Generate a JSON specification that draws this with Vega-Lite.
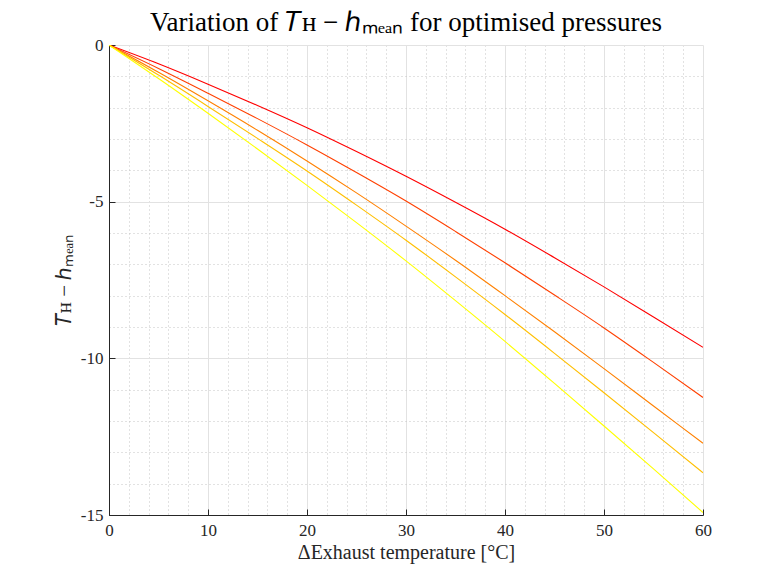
{
  "$schema": "https://vega.github.io/schema/vega-lite/v6.json",
  "width": 594,
  "height": 470,
  "autosize": {"type": "none"},
  "padding": {"left": 109, "top": 45, "right": 63, "bottom": 62},
  "background": "white",
  "title": {
    "text": "Variation of 𝑇ʜ − ℎₘₑₐₙ for optimised pressures",
    "font": "Liberation Serif",
    "fontSize": 27,
    "fontWeight": "normal",
    "color": "#000000",
    "anchor": "middle",
    "offset": -1
  },
  "data": {
    "values": [
      {"s": "1", "dT": 0, "v": 0}, {"s": "1", "dT": 5, "v": -0.6}, {"s": "1", "dT": 10, "v": -1.25}, {"s": "1", "dT": 15, "v": -1.93}, {"s": "1", "dT": 20, "v": -2.64}, {"s": "1", "dT": 25, "v": -3.4}, {"s": "1", "dT": 30, "v": -4.19}, {"s": "1", "dT": 35, "v": -5.02}, {"s": "1", "dT": 40, "v": -5.88}, {"s": "1", "dT": 45, "v": -6.79}, {"s": "1", "dT": 50, "v": -7.72}, {"s": "1", "dT": 55, "v": -8.68}, {"s": "1", "dT": 60, "v": -9.65},
      {"s": "2", "dT": 0, "v": 0}, {"s": "2", "dT": 5, "v": -0.75}, {"s": "2", "dT": 10, "v": -1.54}, {"s": "2", "dT": 15, "v": -2.35}, {"s": "2", "dT": 20, "v": -3.19}, {"s": "2", "dT": 25, "v": -4.07}, {"s": "2", "dT": 30, "v": -4.98}, {"s": "2", "dT": 35, "v": -5.95}, {"s": "2", "dT": 40, "v": -6.95}, {"s": "2", "dT": 45, "v": -7.98}, {"s": "2", "dT": 50, "v": -9.03}, {"s": "2", "dT": 55, "v": -10.13}, {"s": "2", "dT": 60, "v": -11.25},
      {"s": "3", "dT": 0, "v": 0}, {"s": "3", "dT": 5, "v": -0.87}, {"s": "3", "dT": 10, "v": -1.78}, {"s": "3", "dT": 15, "v": -2.72}, {"s": "3", "dT": 20, "v": -3.7}, {"s": "3", "dT": 25, "v": -4.72}, {"s": "3", "dT": 30, "v": -5.78}, {"s": "3", "dT": 35, "v": -6.87}, {"s": "3", "dT": 40, "v": -8.0}, {"s": "3", "dT": 45, "v": -9.15}, {"s": "3", "dT": 50, "v": -10.33}, {"s": "3", "dT": 55, "v": -11.52}, {"s": "3", "dT": 60, "v": -12.71},
      {"s": "4", "dT": 0, "v": 0}, {"s": "4", "dT": 5, "v": -0.96}, {"s": "4", "dT": 10, "v": -1.96}, {"s": "4", "dT": 15, "v": -2.98}, {"s": "4", "dT": 20, "v": -4.02}, {"s": "4", "dT": 25, "v": -5.11}, {"s": "4", "dT": 30, "v": -6.23}, {"s": "4", "dT": 35, "v": -7.4}, {"s": "4", "dT": 40, "v": -8.6}, {"s": "4", "dT": 45, "v": -9.84}, {"s": "4", "dT": 50, "v": -11.1}, {"s": "4", "dT": 55, "v": -12.37}, {"s": "4", "dT": 60, "v": -13.65},
      {"s": "5", "dT": 0, "v": 0}, {"s": "5", "dT": 5, "v": -1.07}, {"s": "5", "dT": 10, "v": -2.18}, {"s": "5", "dT": 15, "v": -3.32}, {"s": "5", "dT": 20, "v": -4.48}, {"s": "5", "dT": 25, "v": -5.67}, {"s": "5", "dT": 30, "v": -6.89}, {"s": "5", "dT": 35, "v": -8.16}, {"s": "5", "dT": 40, "v": -9.46}, {"s": "5", "dT": 45, "v": -10.8}, {"s": "5", "dT": 50, "v": -12.16}, {"s": "5", "dT": 55, "v": -13.53}, {"s": "5", "dT": 60, "v": -14.92}
    ]
  },
  "mark": {"type": "line", "strokeWidth": 1.1, "interpolate": "monotone", "clip": true},
  "encoding": {
    "x": {
      "field": "dT",
      "type": "quantitative",
      "scale": {"domain": [0, 60], "nice": false, "zero": false},
      "axis": {
        "title": "ΔExhaust temperature [°C]",
        "titleFont": "Liberation Serif",
        "titleFontSize": 20,
        "titleFontWeight": "normal",
        "titleColor": "#262626",
        "titlePadding": 4,
        "values": [0, 2, 4, 6, 8, 10, 12, 14, 16, 18, 20, 22, 24, 26, 28, 30, 32, 34, 36, 38, 40, 42, 44, 46, 48, 50, 52, 54, 56, 58, 60],
        "labelExpr": "datum.value % 10 === 0 ? toString(datum.value) : ''",
        "labelFont": "Liberation Serif",
        "labelFontSize": 17,
        "labelColor": "#262626",
        "labelPadding": 13,
        "labelFlush": false,
        "labelOverlap": false,
        "domainColor": "#262626",
        "domainWidth": 1,
        "tickColor": "#262626",
        "tickSize": -6,
        "tickOpacity": {"condition": {"test": "datum.value % 10 === 0", "value": 1}, "value": 0},
        "grid": true,
        "gridColor": {"condition": {"test": "datum.value % 10 === 0", "value": "#e2e2e2"}, "value": "#c4c4c4"},
        "gridDash": {"condition": {"test": "datum.value % 10 === 0", "value": []}, "value": [1, 3]},
        "gridWidth": 1
      }
    },
    "y": {
      "field": "v",
      "type": "quantitative",
      "scale": {"domain": [-15, 0], "nice": false, "zero": false},
      "axis": {
        "title": "𝑇ʜ − ℎₘₑₐₙ",
        "titleFont": "Liberation Serif",
        "titleFontSize": 21,
        "titleFontWeight": "normal",
        "titleColor": "#262626",
        "titlePadding": 6,
        "values": [-15, -14, -13, -12, -11, -10, -9, -8, -7, -6, -5, -4, -3, -2, -1, 0],
        "labelExpr": "datum.value % 5 === 0 ? toString(datum.value) : ''",
        "labelFont": "Liberation Serif",
        "labelFontSize": 17,
        "labelColor": "#262626",
        "labelPadding": 12,
        "labelFlush": false,
        "labelOverlap": false,
        "domainColor": "#262626",
        "domainWidth": 1,
        "tickColor": "#262626",
        "tickSize": -6,
        "tickOpacity": {"condition": {"test": "datum.value % 5 === 0", "value": 1}, "value": 0},
        "grid": true,
        "gridColor": {"condition": {"test": "datum.value % 5 === 0", "value": "#e2e2e2"}, "value": "#c4c4c4"},
        "gridDash": {"condition": {"test": "datum.value % 5 === 0", "value": []}, "value": [1, 3]},
        "gridWidth": 1
      }
    },
    "color": {
      "field": "s",
      "type": "nominal",
      "scale": {"domain": ["1", "2", "3", "4", "5"], "range": ["#ff0000", "#ff4000", "#ff8000", "#ffbf00", "#ffff00"]},
      "legend": null
    }
  },
  "config": {"view": {"stroke": null}}
}
